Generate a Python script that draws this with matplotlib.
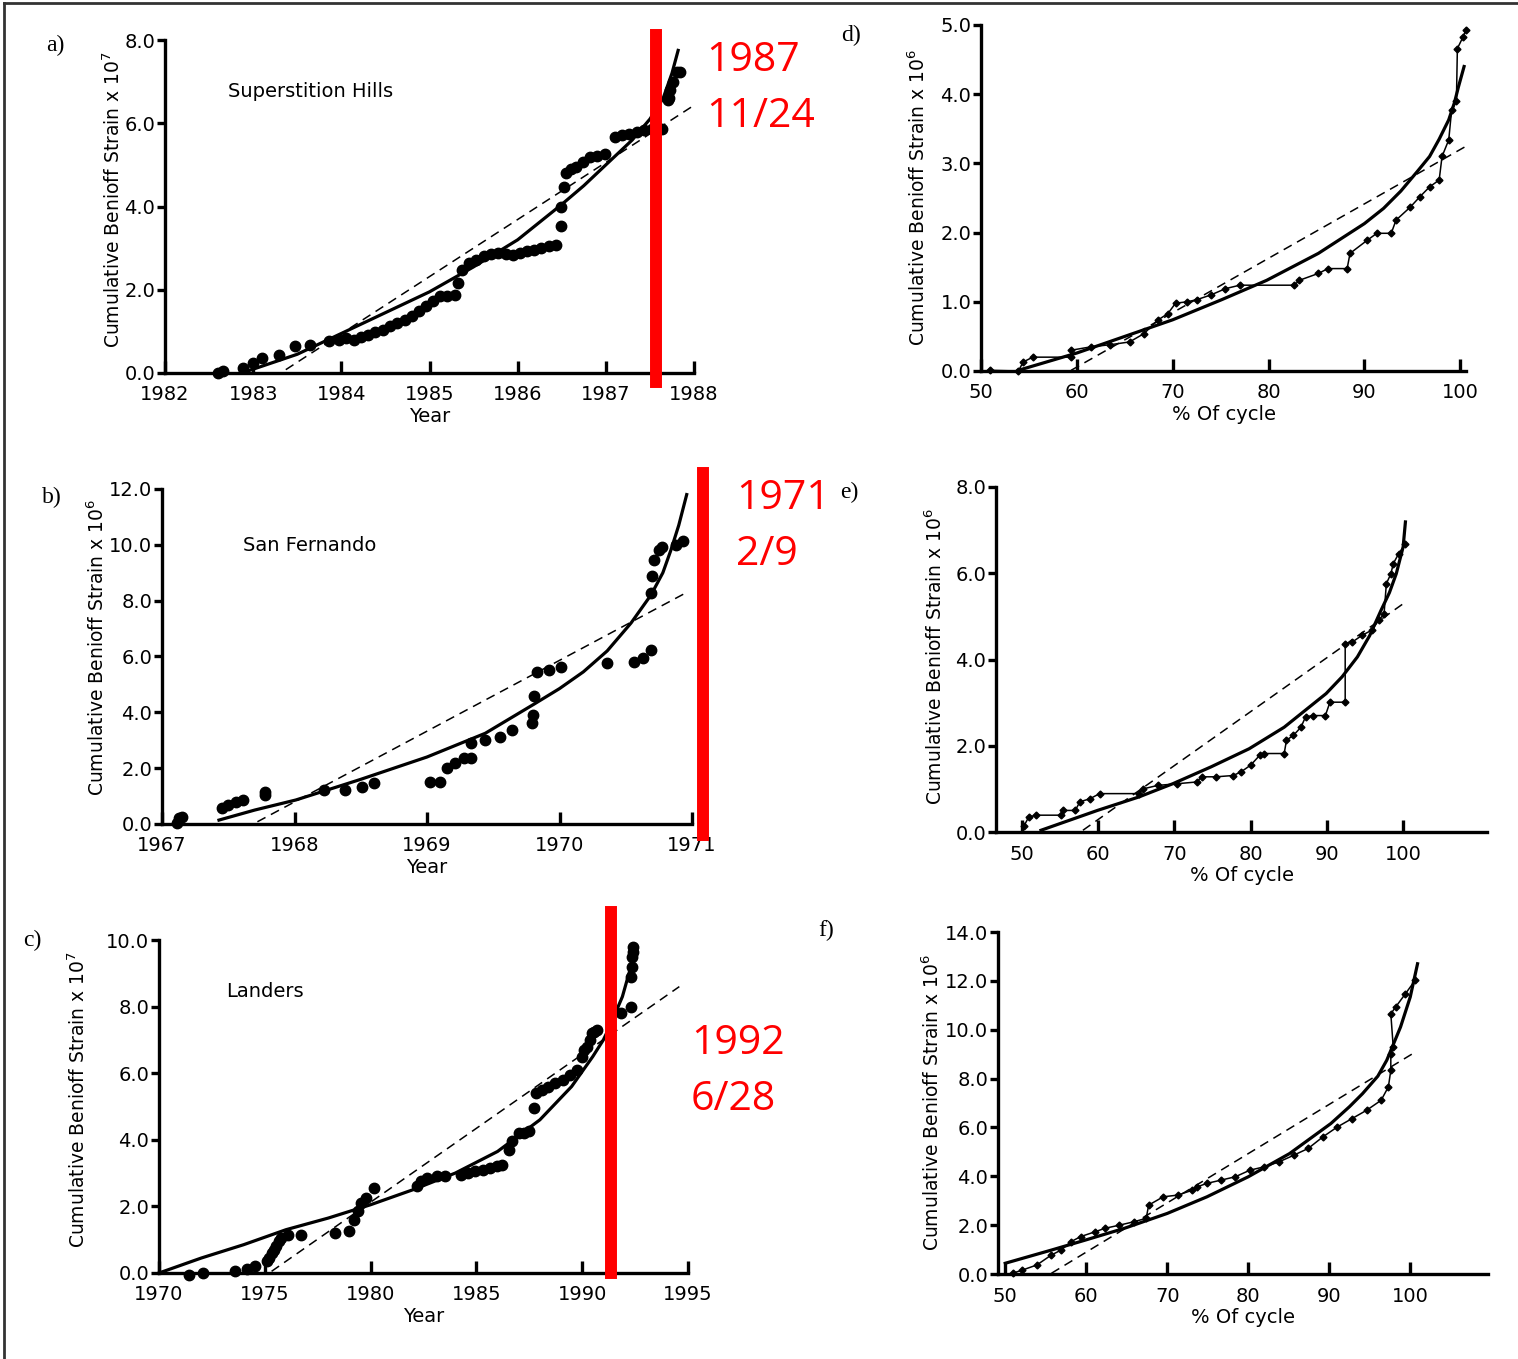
import matplotlib
matplotlib.use('Agg')
import matplotlib.pyplot as plt
from matplotlib.lines import Line2D

W, H = 1518, 1359

# ---------------- data ----------------
# a) Superstition Hills (x 10^7)
a_year = [1982.6, 1982.66, 1982.88, 1983.0, 1983.1, 1983.29, 1983.48, 1983.64, 1983.86, 1983.97,
          1984.05, 1984.14, 1984.22, 1984.3, 1984.38, 1984.47, 1984.55, 1984.63, 1984.72, 1984.8,
          1984.88, 1984.96, 1985.04, 1985.12, 1985.2, 1985.29, 1985.32, 1985.37, 1985.45, 1985.53,
          1985.62, 1985.7, 1985.78, 1985.87, 1985.95, 1986.03, 1986.11, 1986.19, 1986.27, 1986.35,
          1986.43, 1986.49, 1986.49, 1986.52, 1986.55, 1986.6, 1986.66, 1986.74, 1986.82, 1986.9,
          1986.99, 1987.1, 1987.18, 1987.26, 1987.35, 1987.43, 1987.52, 1987.64, 1987.7, 1987.72,
          1987.73, 1987.76, 1987.81, 1987.84]
a_strain = [0.0, 0.04, 0.12, 0.24, 0.36, 0.44, 0.64, 0.68, 0.76, 0.8,
            0.85, 0.8, 0.86, 0.92, 0.98, 1.04, 1.12, 1.2, 1.28, 1.36,
            1.48, 1.6, 1.72, 1.84, 1.86, 1.88, 2.16, 2.48, 2.64, 2.72,
            2.8, 2.85, 2.88, 2.86, 2.84, 2.88, 2.92, 2.96, 3.0, 3.04,
            3.08, 3.52, 4.0, 4.47, 4.8, 4.9, 4.95, 5.08, 5.19, 5.22,
            5.27, 5.67, 5.72, 5.75, 5.8, 5.83, 5.85, 5.87, 6.55, 6.6,
            6.79, 7.0, 7.23, 7.23]
a_fit_x = [1982.9, 1983.5, 1984.0, 1984.5, 1985.0, 1985.5, 1986.0, 1986.5, 1986.75, 1987.0,
           1987.3, 1987.5, 1987.65, 1987.75, 1987.82]
a_fit_y = [0.02, 0.45, 0.95, 1.45, 1.95, 2.55, 3.2, 4.05, 4.5, 5.0,
           5.6, 6.1, 6.6, 7.2, 7.75]
a_lin_x = [1983.37, 1987.97]
a_lin_y = [0.08, 6.39]

# b) San Fernando (x 10^6)
b_year = [1967.11, 1967.13, 1967.15, 1967.45, 1967.5, 1967.56, 1967.61, 1967.78, 1967.78, 1968.22,
          1968.38, 1968.51, 1968.6, 1969.02, 1969.1, 1969.15, 1969.21, 1969.28, 1969.33, 1969.33,
          1969.44, 1969.55, 1969.64, 1969.79, 1969.8, 1969.81, 1969.83, 1969.92, 1970.01, 1970.36,
          1970.56, 1970.63, 1970.69, 1970.69, 1970.7, 1970.71, 1970.75, 1970.77, 1970.88, 1970.93]
b_strain = [0.02, 0.2, 0.26, 0.56, 0.68, 0.8, 0.86, 1.04, 1.16, 1.22,
            1.22, 1.34, 1.46, 1.52, 1.52, 2.0, 2.18, 2.35, 2.35, 2.9,
            3.0, 3.13, 3.37, 3.6, 3.9, 4.6, 5.46, 5.52, 5.64, 5.76,
            5.82, 5.94, 6.24, 8.27, 8.87, 9.47, 9.82, 9.94, 10.0, 10.12]
b_fit_x = [1967.43, 1967.7, 1968.01, 1968.5, 1969.0, 1969.44, 1969.81, 1970.0, 1970.18, 1970.36,
           1970.54, 1970.69, 1970.78, 1970.84, 1970.9, 1970.96]
b_fit_y = [0.14, 0.5, 0.86, 1.6, 2.4, 3.25, 4.3, 4.85, 5.45, 6.2,
           7.2, 8.2, 9.0, 9.8, 10.7, 11.8]
b_lin_x = [1967.72, 1970.95]
b_lin_y = [0.08, 8.27]

# c) Landers (x 10^7)
c_year = [1971.42, 1972.1, 1973.6, 1974.17, 1974.52, 1975.09, 1975.2, 1975.32, 1975.42, 1975.55,
          1975.65, 1975.78, 1976.12, 1976.7, 1978.3, 1978.99, 1979.22, 1979.4, 1979.56, 1979.79,
          1980.14, 1982.2, 1982.4, 1982.66, 1983.12, 1983.5, 1984.27, 1984.6, 1984.95, 1985.3,
          1985.64, 1985.95, 1986.22, 1986.56, 1986.68, 1987.0, 1987.25, 1987.5, 1987.71, 1987.82,
          1988.1, 1988.39, 1988.7, 1989.08, 1989.4, 1989.77, 1990.0, 1990.1, 1990.23, 1990.35,
          1990.46, 1990.55, 1990.69, 1991.83, 1992.29, 1992.29, 1992.33, 1992.36, 1992.39, 1992.41]
c_strain = [-0.05, 0.0, 0.05, 0.12, 0.2, 0.35, 0.45, 0.6, 0.7, 0.8,
            0.95, 1.05, 1.15, 1.15, 1.2, 1.25, 1.6, 1.85, 2.1, 2.25,
            2.55, 2.6, 2.75, 2.85, 2.9, 2.9, 2.95, 3.0, 3.05, 3.1,
            3.15, 3.2, 3.25, 3.7, 3.95, 4.2, 4.2, 4.25, 4.95, 5.4,
            5.5, 5.6, 5.7, 5.8, 5.95, 6.1, 6.5, 6.7, 6.8, 7.0,
            7.2, 7.25, 7.3, 7.8, 8.0, 8.9, 9.2, 9.5, 9.65, 9.8]
c_fit_x = [1970.0, 1972.0, 1974.0, 1976.0, 1978.0, 1980.0, 1982.0, 1984.0, 1986.0, 1988.0,
           1989.5, 1990.5, 1991.0, 1991.3, 1991.9, 1992.3, 1992.5]
c_fit_y = [0.0, 0.45, 0.85, 1.3, 1.65, 2.05, 2.5, 3.0, 3.65, 4.6,
           5.6, 6.5, 7.0, 7.4, 8.3, 9.2, 9.8]
c_lin_x = [1975.32, 1994.59]
c_lin_y = [0.05, 8.6]

# d) % of cycle (x 10^6)
d_pct = [50.9, 53.9, 54.4, 55.4, 59.4, 59.4, 61.5, 63.5, 65.5, 67.0,
         68.5, 69.5, 70.3, 71.5, 72.5, 74.0, 75.5, 77.0, 82.7, 83.2,
         85.2, 86.2, 88.2, 88.5, 90.3, 91.3, 92.8, 93.3, 94.8, 95.8,
         96.8, 97.8, 98.1, 98.8, 99.1, 99.6, 99.7, 100.3, 100.6]
d_strain = [0.01, 0.0, 0.13, 0.2, 0.2, 0.3, 0.35, 0.38, 0.42, 0.54,
            0.74, 0.83, 0.98, 1.0, 1.03, 1.1, 1.19, 1.24, 1.24, 1.31,
            1.41, 1.48, 1.48, 1.7, 1.89, 1.99, 1.99, 2.18, 2.37, 2.52,
            2.66, 2.76, 3.1, 3.34, 3.77, 3.9, 4.66, 4.83, 4.93]
d_fit_x = [53.9, 60.0, 65.0, 70.0, 75.1, 79.8, 85.2, 90.0, 92.0, 93.8,
           95.5, 96.8, 97.8, 98.8, 99.4, 99.8, 100.4]
d_fit_y = [0.01, 0.26, 0.5, 0.74, 1.03, 1.31, 1.7, 2.13, 2.35, 2.6,
           2.88, 3.1, 3.35, 3.63, 3.88, 4.1, 4.4]
d_lin_x = [59.4, 100.5]
d_lin_y = [0.01, 3.24]

# e) % of cycle (x 10^6)
e_pct = [50.3, 50.9, 51.9, 55.1, 55.4, 57.0, 57.6, 58.9, 60.2, 65.3,
         65.9, 67.8, 70.4, 72.9, 73.6, 75.5, 77.7, 78.7, 80.0, 81.2,
         81.8, 84.4, 84.7, 85.6, 86.6, 87.2, 88.2, 89.8, 90.4, 92.4,
         92.4, 93.3, 94.6, 95.9, 96.8, 97.5, 97.8, 98.4, 98.7, 99.4,
         100.3]
e_strain = [0.15, 0.35, 0.39, 0.39, 0.5, 0.5, 0.7, 0.77, 0.89, 0.89,
            1.0, 1.08, 1.12, 1.16, 1.28, 1.28, 1.31, 1.39, 1.55, 1.78,
            1.82, 1.82, 2.13, 2.24, 2.43, 2.67, 2.7, 2.7, 3.01, 3.01,
            4.37, 4.4, 4.56, 4.68, 4.91, 5.06, 5.76, 5.99, 6.22, 6.45,
            6.68]
e_fit_x = [52.5, 59.9, 65.3, 69.8, 74.8, 79.8, 84.4, 89.9, 92.0, 94.0,
           95.6, 97.1, 98.2, 99.1, 100.0, 100.3]
e_fit_y = [0.04, 0.5, 0.81, 1.12, 1.51, 1.93, 2.43, 3.21, 3.6, 4.06,
           4.55, 5.14, 5.55, 5.99, 6.61, 7.19]
e_lin_x = [58.0, 100.3]
e_lin_y = [0.04, 5.33]

# f) % of cycle (x 10^6)
f_pct = [50.9, 52.1, 53.9, 55.7, 56.9, 58.1, 59.3, 61.1, 62.3, 64.1,
         65.9, 67.4, 67.7, 69.5, 71.3, 73.1, 73.7, 74.9, 76.6, 78.4,
         80.2, 82.0, 83.8, 85.6, 87.4, 89.2, 91.0, 92.8, 94.6, 96.4,
         97.3, 97.6, 97.6, 97.9, 97.6, 98.2, 99.4, 100.6]
f_strain = [0.03, 0.16, 0.37, 0.78, 0.98, 1.32, 1.53, 1.73, 1.87, 2.0,
            2.14, 2.28, 2.82, 3.16, 3.23, 3.43, 3.57, 3.71, 3.84, 3.98,
            4.25, 4.39, 4.59, 4.86, 5.14, 5.61, 6.02, 6.36, 6.7, 7.11,
            7.66, 8.34, 9.02, 9.29, 10.65, 10.93, 11.47, 12.02]
f_fit_x = [50.0, 55.7, 59.9, 64.7, 70.0, 74.9, 80.0, 85.1, 90.2, 92.5,
           94.1, 96.0, 97.1, 98.8, 100.0, 100.9]
f_fit_y = [0.44, 0.98, 1.39, 1.87, 2.48, 3.16, 3.98, 4.93, 6.16, 6.85,
           7.38, 8.1, 8.75, 10.11, 11.34, 12.7]
f_lin_x = [55.7, 100.3]
f_lin_y = [0.03, 9.02]

# earthquake dates (red bars)
quake_x = {'a': 1987.57, 'b': 1971.08, 'c': 1991.36}
quake_text = {'a': '1987\n11/24', 'b': '1971\n2/9', 'c': '1992\n6/28'}

# ---------------- figure ----------------
fig = plt.figure(figsize=(W / 100, H / 100), dpi=100)


def make_ax(left, right, top, bottom):
    return fig.add_axes([left / W, 1 - bottom / H, (right - left) / W, (bottom - top) / H])


def style(ax, xlim, ylim, xt, yt, xlabel):
    ax.set_xlim(*xlim)
    ax.set_ylim(*ylim)
    for s in ['top', 'right']:
        ax.spines[s].set_visible(False)
    for s in ['left', 'bottom']:
        ax.spines[s].set_linewidth(2.4)
    ax.set_xticks(xt)
    ax.set_yticks(yt)
    ax.set_yticklabels(['%.1f' % v for v in yt])
    ax.tick_params(axis='x', direction='in', length=9, width=2.4, pad=9, labelsize=14)
    ax.tick_params(axis='y', direction='out', length=6, width=2.4, pad=1, labelsize=14)
    ax.set_xlabel(xlabel, fontsize=14, labelpad=2)
    ax.patch.set_visible(False)


def scatter_panel(ax, x, y, fx, fy, lx, ly):
    ax.plot(x, y, 'o', color='black', ms=7.5, clip_on=False, zorder=3)
    ax.plot(fx, fy, color='black', lw=2.3, clip_on=False, zorder=4)
    ax.plot(lx, ly, color='black', lw=1.1, ls=(0, (6, 4)), clip_on=False)


def cycle_panel(ax, x, y, fx, fy, lx, ly):
    ax.plot(x, y, color='black', lw=1.1, marker='D', ms=3.5, clip_on=False, zorder=3)
    ax.plot(fx, fy, color='black', lw=2.3, clip_on=False, zorder=4)
    ax.plot(lx, ly, color='black', lw=1.1, ls=(0, (6, 4)), clip_on=False)


# a)
ax_a = make_ax(165, 694, 40, 373)
style(ax_a, (1982, 1988), (0, 8), range(1982, 1989), [0, 2, 4, 6, 8], 'Year')
scatter_panel(ax_a, a_year, a_strain, a_fit_x, a_fit_y, a_lin_x, a_lin_y)
ax_a.text(0.12, 0.845, 'Superstition Hills', transform=ax_a.transAxes, fontsize=14, va='center')

# b)
ax_b = make_ax(162, 692, 489, 824)
style(ax_b, (1967, 1971), (0, 12), range(1967, 1972), [0, 2, 4, 6, 8, 10, 12], 'Year')
scatter_panel(ax_b, b_year, b_strain, b_fit_x, b_fit_y, b_lin_x, b_lin_y)
ax_b.text(0.153, 0.83, 'San Fernando', transform=ax_b.transAxes, fontsize=14, va='center')

# c)
ax_c = make_ax(159, 688, 940, 1273)
style(ax_c, (1970, 1995), (0, 10), range(1970, 1996, 5), [0, 2, 4, 6, 8, 10], 'Year')
scatter_panel(ax_c, c_year, c_strain, c_fit_x, c_fit_y, c_lin_x, c_lin_y)
ax_c.text(0.127, 0.845, 'Landers', transform=ax_c.transAxes, fontsize=14, va='center')

# d)
ax_d = make_ax(981, 1466, 25, 371)
style(ax_d, (50, 100.6), (0, 5), range(50, 101, 10), [0, 1, 2, 3, 4, 5], '% Of cycle')
cycle_panel(ax_d, d_pct, d_strain, d_fit_x, d_fit_y, d_lin_x, d_lin_y)

# e)
ax_e = make_ax(996, 1487, 487, 832)
style(ax_e, (46.6, 111), (0, 8), range(50, 101, 10), [0, 2, 4, 6, 8], '% Of cycle')
cycle_panel(ax_e, e_pct, e_strain, e_fit_x, e_fit_y, e_lin_x, e_lin_y)

# f)
ax_f = make_ax(998, 1488, 932, 1274)
style(ax_f, (49.1, 109.6), (0, 14), range(50, 101, 10), [0, 2, 4, 6, 8, 10, 12, 14], '% Of cycle')
cycle_panel(ax_f, f_pct, f_strain, f_fit_x, f_fit_y, f_lin_x, f_lin_y)

# y labels
ylabels = [(113, 200, '7'), (97, 647, '6'), (78, 1100, '7'),
           (918, 197, '6'), (935, 656, '6'), (932, 1102, '6')]
for x, y, e in ylabels:
    fig.text(x / W, 1 - y / H, 'Cumulative Benioff Strain x 10$^{%s}$' % e,
             rotation=90, ha='center', va='center', fontsize=13.5)

# panel letters
letters = [(55, 45, 'a)'), (52, 497, 'b)'), (32, 940, 'c)'),
           (851, 35, 'd)'), (849, 492, 'e)'), (826, 930, 'f)')]
for x, y, t in letters:
    fig.text(x / W, 1 - y / H, t, ha='center', va='center', fontsize=17,
             family='Liberation Serif')

# red earthquake markers
for ax, key, y0, y1 in [(ax_a, 'a', -0.027, 1.015), (ax_b, 'b', -0.033, 1.048), (ax_c, 'c', 0.0, 1.084)]:
    ax.axvline(quake_x[key], ymin=y0, ymax=y1, color='red', lw=8.6, clip_on=False, zorder=5)

red_pos = {'a': (706, 89), 'b': (736, 527), 'c': (691, 1072)}
for key, (x, y) in red_pos.items():
    fig.text(x / W, 1 - y / H, quake_text[key], color='red', fontsize=29.5,
             ha='left', va='center', linespacing=1.5, family='Open Sans')

# outer frame (left and top edges)
fig.add_artist(Line2D([4 / W, 4 / W], [0, 1 - 3 / H], transform=fig.transFigure, color='#333333', lw=2))
fig.add_artist(Line2D([4 / W, 1], [1 - 3 / H, 1 - 3 / H], transform=fig.transFigure, color='#333333', lw=2))

fig.savefig('out.png', dpi=100)
